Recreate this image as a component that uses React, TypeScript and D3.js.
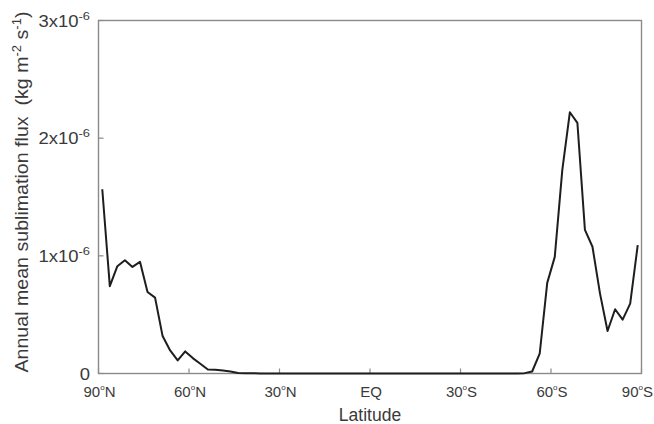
import React from "react";
import * as d3 from "d3";

const latitudes: number[] = [
  88.75, 86.25, 83.75, 81.25, 78.75, 76.25, 73.75, 71.25, 68.75, 66.25, 63.75, 61.25,
  58.75, 56.25, 53.75, 51.25, 48.75, 46.25, 43.75, 41.25, 38.75, 36.25, 33.75, 31.25,
  28.75, 26.25, 23.75, 21.25, 18.75, 16.25, 13.75, 11.25, 8.75, 6.25, 3.75, 1.25,
  -1.25, -3.75, -6.25, -8.75, -11.25, -13.75, -16.25, -18.75, -21.25, -23.75, -26.25, -28.75,
  -31.25, -33.75, -36.25, -38.75, -41.25, -43.75, -46.25, -48.75, -51.25, -53.75, -56.25, -58.75,
  -61.25, -63.75, -66.25, -68.75, -71.25, -73.75, -76.25, -78.75, -81.25, -83.75, -86.25, -88.75,
];

// flux in units of 1e-6 kg m-2 s-1
const flux: number[] = [
  1.566, 0.742, 0.912, 0.963, 0.906, 0.949, 0.693, 0.645, 0.318, 0.196, 0.111, 0.188,
  0.131, 0.083, 0.034, 0.032, 0.026, 0.017, 0.004, 0.002, 0.002, 0.001, 0.001, 0.001,
  0.0, 0.0, 0.0, 0.0, 0.0, 0.0, 0.0, 0.0, 0.0, 0.0, 0.0, 0.0,
  0.0, 0.0, 0.0, 0.0, 0.0, 0.0, 0.0, 0.0, 0.0, 0.0, 0.0, 0.0,
  0.0, 0.0, 0.0, 0.0, 0.0, 0.0, 0.0, 0.0, 0.003, 0.017, 0.168, 0.77,
  0.991, 1.73, 2.22, 2.13, 1.22, 1.077, 0.679, 0.361, 0.546, 0.458, 0.594, 1.091,
];

const xTickValues: number[] = [90, 60, 30, 0, -30, -60, -90];
const xTickLabels: string[] = ["90", "60", "30", "EQ", "30", "60", "90"];
const xTickHemis: string[] = ["N", "N", "N", "", "S", "S", "S"];
const yTickValues: number[] = [0, 1, 2, 3];

const W = 654;
const H = 424;
const left = 98.5;
const right = 641.5;
const top = 20.5;
const bottom = 373.5;

export default function App() {
  const x = d3.scaleLinear().domain([90, -90]).range([left, right]);
  const y = d3.scaleLinear().domain([0, 3]).range([bottom, top]);
  const line = d3
    .line<number>()
    .x((_, i) => x(latitudes[i]))
    .y((d) => y(d));
  const axisColor = "#8a8a8a";
  const textColor = "#3a3a3a";
  const font = "'Liberation Sans', Arial, sans-serif";

  return (
    <svg
      width={W}
      height={H}
      style={{ position: "absolute", left: 0, top: 0, background: "#fff" }}
      fontFamily={font}
    >
      <rect x={left} y={top} width={right - left} height={bottom - top} fill="none" stroke={axisColor} strokeWidth={1.4} />
      {yTickValues.map((v) => (
        <g key={"y" + v}>
          <line x1={left} x2={left + 5} y1={y(v)} y2={y(v)} stroke={axisColor} strokeWidth={1.2} />
          <g transform={`translate(90, ${y(v) + 6}) scale(1.12, 1)`}>
            {v === 0 ? (
              <text x={0} y={0} textAnchor="end" fontSize={16.5} fill={textColor}>
                0
              </text>
            ) : (
              <text x={0} y={0} textAnchor="end" fontSize={16.5} fill={textColor}>
                {v}x10
                <tspan fontSize={11.5} dy={-7}>
                  -6
                </tspan>
              </text>
            )}
          </g>
        </g>
      ))}
      {xTickValues.map((v, i) => {
        const last = i === xTickValues.length - 1;
        return (
          <g key={"x" + v}>
            <line x1={x(v)} x2={x(v)} y1={bottom} y2={bottom - 5} stroke={axisColor} strokeWidth={1.2} />
            <text
              x={last ? 653 : x(v) + 1}
              y={397}
              textAnchor={last ? "end" : "middle"}
              fontSize={15}
              fill={textColor}
            >
              {xTickLabels[i]}
              {xTickHemis[i] ? (
                <>
                  <tspan fontSize={8} dy={-7}>
                    o
                  </tspan>
                  <tspan dy={7}>{xTickHemis[i]}</tspan>
                </>
              ) : null}
            </text>
          </g>
        );
      })}
      <path d={line(flux) || ""} fill="none" stroke="#1e1e1e" strokeWidth={2} strokeLinejoin="round" />
      <text x={370} y={421} textAnchor="middle" fontSize={17.5} fill={textColor}>
        Latitude
      </text>
      <text
        transform={`translate(28, 192) rotate(-90) scale(1.09, 1)`}
        textAnchor="middle"
        fontSize={18}
        fill={textColor}
        style={{ whiteSpace: "pre" }}
      >
        {"Annual mean sublimation flux  (kg m"}
        <tspan fontSize={12} dy={-7}>-2</tspan>
        <tspan dy={7}>{" s"}</tspan>
        <tspan fontSize={12} dy={-7}>-1</tspan>
        <tspan dy={7}>)</tspan>
      </text>
    </svg>
  );
}
